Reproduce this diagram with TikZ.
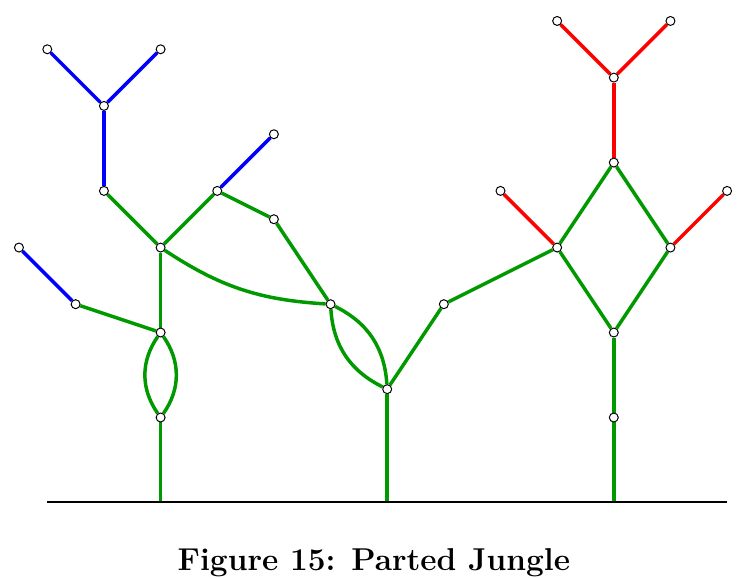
\documentclass[tikz,border=0pt]{standalone}
\usetikzlibrary{backgrounds}

\begin{document}
\begin{tikzpicture}[x=0.8cm, y=0.8cm,
    vertex/.style={circle, draw, fill=white, inner sep=0pt, minimum size=3.6pt, line width=0.4pt},
    stem/.style={green!60!black, line width=1.4pt},
    bluetwig/.style={blue, line width=1.4pt},
    redtwig/.style={red, line width=1.4pt},
    groundline/.style={black, line width=0.8pt},
    caption/.style={font=\fontsize{12.7}{15}\selectfont\bfseries, anchor=base}
    ]
    \useasboundingbox (-2.835,-1.35) rectangle (10.369,8.87);

    \coordinate (gl) at (-2,0);
    \coordinate (gr) at (10,0);
    \coordinate (g1) at (0,0);
    \coordinate (g2) at (4,0);
    \coordinate (g3) at (8,0);

    % left tree
    \node[vertex] (l1) at (0,1.5) {};
    \node[vertex] (l2) at (0,3) {};
    \node[vertex] (l3) at (0,4.5) {};
    \node[vertex] (lb) at (-1.5,3.5) {};
    \node[vertex] (lbt) at (-2.5,4.5) {};
    \node[vertex] (l4) at (-1,5.5) {};
    \node[vertex] (l5) at (-1,7) {};
    \node[vertex] (l6) at (-2,8) {};
    \node[vertex] (l7) at (0,8) {};
    \node[vertex] (m1) at (1,5.5) {};
    \node[vertex] (m2) at (2,6.5) {};
    \node[vertex] (m3) at (2,5) {};
    \node[vertex] (m4) at (3,3.5) {};
    % middle and right tree
    \node[vertex] (c1) at (4,2) {};
    \node[vertex] (c2) at (5,3.5) {};
    \node[vertex] (r1) at (7,4.5) {};
    \node[vertex] (r1t) at (6,5.5) {};
    \node[vertex] (r2) at (8,6) {};
    \node[vertex] (r3) at (8,7.5) {};
    \node[vertex] (r4) at (7,8.5) {};
    \node[vertex] (r5) at (9,8.5) {};
    \node[vertex] (r6) at (9,4.5) {};
    \node[vertex] (r7) at (10,5.5) {};
    \node[vertex] (r8) at (8,3) {};
    \node[vertex] (r9) at (8,1.5) {};

    \begin{scope}[on background layer]
    \draw[stem] (g1) -- (l1);
    \draw[stem] (l1) to[bend left=35] (l2);
    \draw[stem] (l1) to[bend right=35] (l2);
    \draw[stem] (l2) -- (l3);
    \draw[stem] (l2) -- (lb);
    \draw[stem] (l3) -- (l4);
    \draw[stem] (l3) -- (m1);
    \draw[stem] (m1) -- (m3);
    \draw[stem] (m3) -- (m4);
    \draw[stem] (l3) to[bend right=15] (m4);
    \draw[stem] (m4) to[bend left=30] (c1);
    \draw[stem] (m4) to[bend right=30] (c1);
    \draw[stem] (g2) -- (c1);
    \draw[stem] (c1) -- (c2);
    \draw[stem] (c2) -- (r1);
    \draw[stem] (r1) -- (r2);
    \draw[stem] (r1) -- (r8);
    \draw[stem] (r2) -- (r6);
    \draw[stem] (r6) -- (r8);
    \draw[stem] (r8) -- (r9);
    \draw[stem] (r9) -- (g3);

    \draw[bluetwig] (lb) -- (lbt);
    \draw[bluetwig] (l4) -- (l5);
    \draw[bluetwig] (l5) -- (l6);
    \draw[bluetwig] (l5) -- (l7);
    \draw[bluetwig] (m1) -- (m2);

    \draw[redtwig] (r1) -- (r1t);
    \draw[redtwig] (r2) -- (r3);
    \draw[redtwig] (r3) -- (r4);
    \draw[redtwig] (r3) -- (r5);
    \draw[redtwig] (r6) -- (r7);

    \draw[groundline] (gl) -- (gr);
    \end{scope}

    \node[caption] (cap) at (3.765,-1.204) {Figure 15: Parted Jungle};
    %
\end{tikzpicture}
\end{document}
